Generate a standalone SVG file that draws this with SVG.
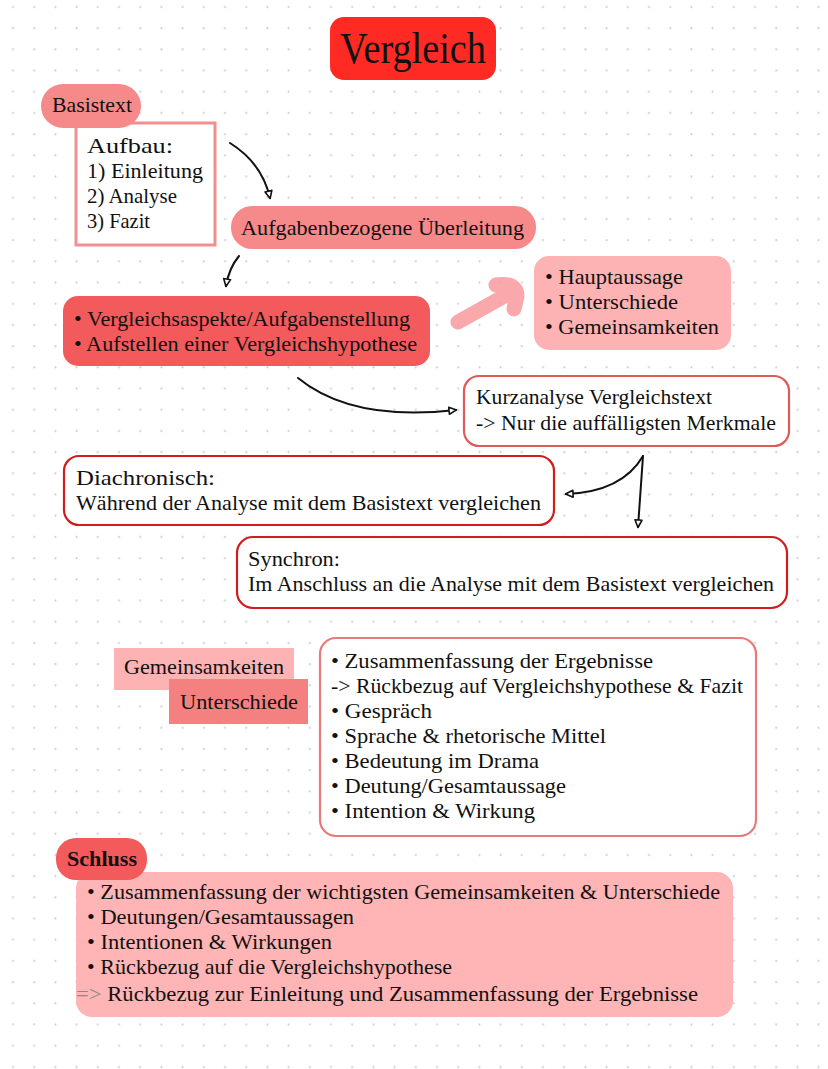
<svg xmlns="http://www.w3.org/2000/svg" width="828" height="1069" viewBox="0 0 828 1069">
<defs>
<pattern id="dots" x="0" y="0" width="21.2" height="21.2" patternUnits="userSpaceOnUse">
<circle cx="13" cy="7" r="1.1" fill="#cfcfcf"/>
</pattern>
<marker id="ah" viewBox="0 0 10 10" refX="8" refY="5" markerWidth="10" markerHeight="10" orient="auto" markerUnits="userSpaceOnUse">
<path d="M1,1.5 L8.5,5 L1,8.5 Z" fill="#fff" stroke="#111" stroke-width="1.6" stroke-linejoin="round"/>
</marker>
<style>
text{font-family:"Liberation Serif","DejaVu Serif",serif;font-size:21.5px;fill:#111;}
.t{font-size:44px;}
.b{font-weight:bold;}
.conn{fill:none;stroke:#111;stroke-width:2;stroke-linecap:round;marker-end:url(#ah);}
.outl{fill:#fff;stroke-width:2.2;}
</style>
</defs>
<rect width="828" height="1069" fill="#fff"/>
<rect width="828" height="1069" fill="url(#dots)"/>

<g id="title">
<rect x="330" y="17" width="166" height="63" rx="14" fill="#ff2a24"/>
<text class="t" x="340" y="63" textLength="146" lengthAdjust="spacingAndGlyphs">Vergleich</text>
</g>

<g id="aufbau">
<rect x="76" y="123" width="139" height="122" fill="#fff" stroke="#f28f8f" stroke-width="3"/>
<text x="87" y="153" textLength="86" lengthAdjust="spacingAndGlyphs">Aufbau:</text>
<text x="87" y="178" textLength="116" lengthAdjust="spacingAndGlyphs">1) Einleitung</text>
<text x="87" y="203" textLength="90" lengthAdjust="spacingAndGlyphs">2) Analyse</text>
<text x="87" y="228" textLength="63" lengthAdjust="spacingAndGlyphs">3) Fazit</text>
</g>

<g id="basistext">
<rect x="41" y="84" width="100" height="44" rx="22" fill="#f68a8a"/>
<text x="52" y="112" textLength="80" lengthAdjust="spacingAndGlyphs">Basistext</text>
</g>

<g id="ueberleitung">
<rect x="231" y="206" width="305" height="43" rx="21" fill="#f68a8a"/>
<text x="241" y="235" textLength="283" lengthAdjust="spacingAndGlyphs">Aufgabenbezogene Überleitung</text>
</g>

<g id="vergleichsaspekte">
<rect x="63" y="296" width="367" height="70" rx="15" fill="#f25a5c"/>
<text x="74" y="326" textLength="336" lengthAdjust="spacingAndGlyphs">• Vergleichsaspekte/Aufgabenstellung</text>
<text x="74" y="351" textLength="343" lengthAdjust="spacingAndGlyphs">• Aufstellen einer Vergleichshypothese</text>
</g>

<g id="hauptaussage">
<rect x="534" y="256" width="197" height="94" rx="15" fill="#fdb3b3"/>
<text x="545" y="284" textLength="138" lengthAdjust="spacingAndGlyphs">• Hauptaussage</text>
<text x="545" y="309" textLength="133" lengthAdjust="spacingAndGlyphs">• Unterschiede</text>
<text x="545" y="334" textLength="174" lengthAdjust="spacingAndGlyphs">• Gemeinsamkeiten</text>
</g>

<g id="kurzanalyse">
<rect x="464" y="376" width="325" height="70" rx="15" class="outl" stroke="#e05a5a"/>
<text x="476" y="404" textLength="236" lengthAdjust="spacingAndGlyphs">Kurzanalyse Vergleichstext</text>
<text x="476" y="430" textLength="300" lengthAdjust="spacingAndGlyphs">-&gt; Nur die auffälligsten Merkmale</text>
</g>

<g id="diachronisch">
<rect x="64" y="456" width="490" height="69" rx="15" class="outl" stroke="#d01c1c"/>
<text x="76" y="485" textLength="139" lengthAdjust="spacingAndGlyphs">Diachronisch:</text>
<text x="76" y="510" textLength="465" lengthAdjust="spacingAndGlyphs">Während der Analyse mit dem Basistext vergleichen</text>
</g>

<g id="synchron">
<rect x="237" y="537" width="550" height="71" rx="16" class="outl" stroke="#d01c1c"/>
<text x="248" y="566" textLength="92" lengthAdjust="spacingAndGlyphs">Synchron:</text>
<text x="248" y="591" textLength="526" lengthAdjust="spacingAndGlyphs">Im Anschluss an die Analyse mit dem Basistext vergleichen</text>
</g>

<g id="gemeinsamkeiten">
<rect x="114" y="648" width="180" height="42" fill="#fdb3b3"/>
<text x="124" y="674" textLength="160" lengthAdjust="spacingAndGlyphs">Gemeinsamkeiten</text>
</g>

<g id="unterschiede">
<rect x="169" y="679" width="139" height="45" fill="#f58080"/>
<text x="180" y="709" textLength="118" lengthAdjust="spacingAndGlyphs">Unterschiede</text>
</g>

<g id="aspekte">
<rect x="320" y="638" width="436" height="198" rx="16" class="outl" stroke="#e87a7a" stroke-width="2.5"/>
<text x="331" y="668" textLength="322" lengthAdjust="spacingAndGlyphs">• Zusammenfassung der Ergebnisse</text>
<text x="331" y="693" textLength="412" lengthAdjust="spacingAndGlyphs">-&gt; Rückbezug auf Vergleichshypothese &amp; Fazit</text>
<text x="331" y="718" textLength="101" lengthAdjust="spacingAndGlyphs">• Gespräch</text>
<text x="331" y="743" textLength="275" lengthAdjust="spacingAndGlyphs">• Sprache &amp; rhetorische Mittel</text>
<text x="331" y="768" textLength="208" lengthAdjust="spacingAndGlyphs">• Bedeutung im Drama</text>
<text x="331" y="793" textLength="235" lengthAdjust="spacingAndGlyphs">• Deutung/Gesamtaussage</text>
<text x="331" y="818" textLength="204" lengthAdjust="spacingAndGlyphs">• Intention &amp; Wirkung</text>
</g>

<g id="schluss-box">
<rect x="76" y="872" width="657" height="145" rx="16" fill="#ffb5b5"/>
<text x="87" y="899" textLength="633" lengthAdjust="spacingAndGlyphs">• Zusammenfassung der wichtigsten Gemeinsamkeiten &amp; Unterschiede</text>
<text x="87" y="924" textLength="267" lengthAdjust="spacingAndGlyphs">• Deutungen/Gesamtaussagen</text>
<text x="87" y="949" textLength="245" lengthAdjust="spacingAndGlyphs">• Intentionen &amp; Wirkungen</text>
<text x="87" y="974" textLength="365" lengthAdjust="spacingAndGlyphs">• Rückbezug auf die Vergleichshypothese</text>
<text x="76" y="1001" textLength="622" lengthAdjust="spacingAndGlyphs"><tspan fill="#8a8a8a">=&gt;</tspan> Rückbezug zur Einleitung und Zusammenfassung der Ergebnisse</text>
</g>

<g id="schluss">
<rect x="56" y="838" width="91" height="42" rx="20" fill="#f25a5c"/>
<text class="b" x="67" y="866" textLength="70" lengthAdjust="spacingAndGlyphs">Schluss</text>
</g>

<g id="connectors">
<path class="conn" d="M230,143 Q262,163 270,198"/>
<path class="conn" d="M239,256 Q229,268 226,286"/>
<path class="conn" d="M298,378 Q352,422 456,410"/>
<path class="conn" d="M643,456 Q622,492 566,494"/>
<path class="conn" d="M643,456 L638,527"/>
<g id="highlight-arrow" fill="none" stroke-linecap="round" stroke-linejoin="round" stroke-width="15" opacity="0.85">
<path d="M458,322 L510,293" stroke="#f89a9e"/>
<path d="M496,285 Q517,282 517,296 L514,309" stroke="#f89a9e"/>
</g>
</g>
</svg>
